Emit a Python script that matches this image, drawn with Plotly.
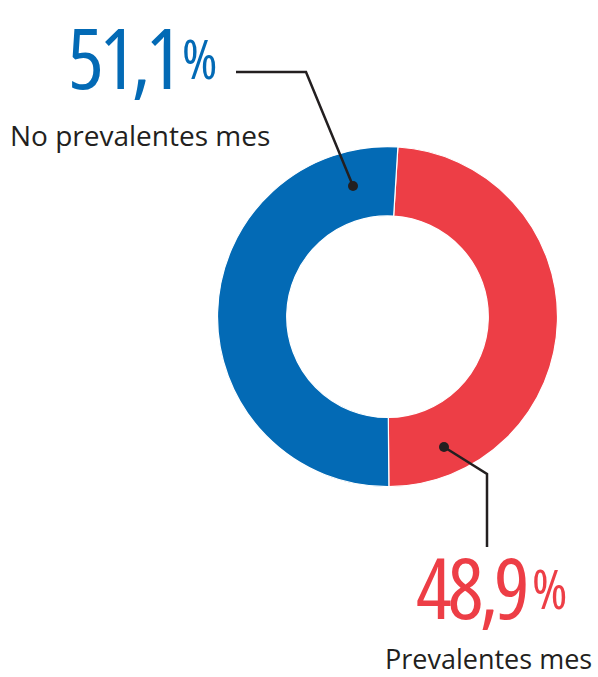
import plotly.graph_objects as go

W, H = 598, 677

labels = ["Prevalentes mes", "No prevalentes mes"]
values = [48.9, 51.1]
value_text = ["48,9", "51,1"]
colors = ["#ed3e46", "#036ab5"]

def px(x, y):
    return x / W, 1 - y / H

cx, cy, r = 387.5, 316.7, 170
fig = go.Figure()
fig.add_trace(go.Pie(
    labels=labels, values=values, sort=False, direction="clockwise", rotation=3.5,
    hole=0.593, marker=dict(colors=colors, line=dict(color="white", width=1.2)),
    textinfo="none", hoverinfo="label+percent", showlegend=False,
    domain=dict(x=[(cx - r) / W, (cx + r) / W], y=[1 - (cy + r) / H, 1 - (cy - r) / H]),
))

BIG = "Open Sans"
LAB = "Open Sans"
ink = "#231f20"

def ann(x, y, text, size, color, family, xa="left", ya="middle"):
    ax, ay = px(x, y)
    fig.add_annotation(x=ax, y=ay, xref="paper", yref="paper", text=text, showarrow=False,
                       xanchor=xa, yanchor=ya, font=dict(size=size, color=color, family=family))

def cond(t, ls=-4):
    return f'<span style="font-stretch:75%;letter-spacing:{ls}px">{t}</span>'

# blue value
ann(66, 56, cond(value_text[1]), 84, colors[1], BIG)
ann(180, 58, cond("%", 0), 54, colors[1], BIG)
ann(8, 135, labels[1], 28, ink, LAB)
# red value
ann(414, 586, cond(value_text[0]), 84, colors[0], BIG)
ann(530, 588, cond("%", 0), 54, colors[0], BIG)
ann(594, 658, labels[0], 27, ink, LAB, xa="right")

# leader lines
def path(points):
    d = "M " + " L ".join(f"{p[0]/W},{1-p[1]/H}" for p in points)
    fig.add_shape(type="path", path=d, xref="paper", yref="paper",
                  line=dict(color=ink, width=2.5))

def dot(x, y, rr=5):
    fig.add_shape(type="circle", xref="paper", yref="paper",
                  x0=(x - rr) / W, x1=(x + rr) / W, y0=1 - (y + rr) / H, y1=1 - (y - rr) / H,
                  fillcolor=ink, line=dict(width=0))

path([(236, 72), (306, 72), (353, 186)])
dot(353, 186)
path([(444, 447), (487, 474), (487, 547)])
dot(444, 447)

fig.update_layout(width=W, height=H, margin=dict(l=0, r=0, t=0, b=0),
                  paper_bgcolor="white", plot_bgcolor="white")
fig.write_html("out.html")
